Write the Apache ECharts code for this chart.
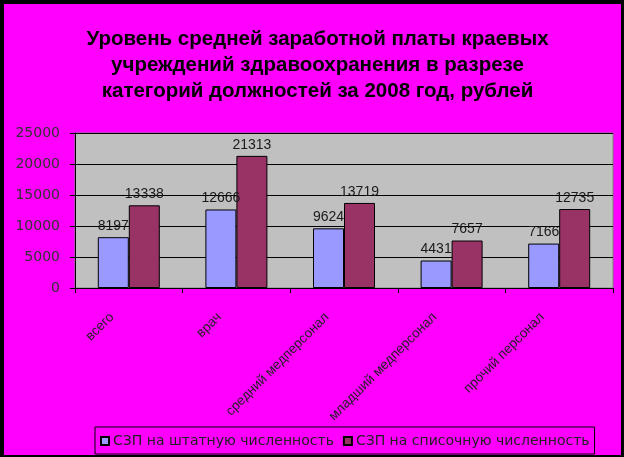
<!DOCTYPE html>
<html><head><meta charset="utf-8">
<script src="https://cdn.jsdelivr.net/npm/echarts@6/dist/echarts.min.js"></script>
<style>html,body{margin:0;padding:0;background:#FF00FF}#c{width:624px;height:457px}</style>
</head><body><div id="c"></div>
<script>
const categories = ['всего', 'врач', 'средний медперсонал', 'младший медперсонал', 'прочий персонал'];
const seriesNames = ['СЗП на штатную численность', 'СЗП на списочную численность'];
const staffValues = [8197, 12666, 9624, 4431, 7166];
const listValues = [13338, 21313, 13719, 7657, 12735];
const yTicks = [0, 5000, 10000, 15000, 20000, 25000];

const chart = echarts.init(document.getElementById('c'), null, {renderer: 'canvas'});
const labelStyle = {show: true, position: 'top', distance: 4, color: '#1a1a1a', fontFamily: 'Liberation Sans', fontSize: 14};
chart.setOption({
  backgroundColor: '#FF00FF',
  animation: false,
  title: {
    text: 'Уровень средней заработной платы краевых\nучреждений здравоохранения в разрезе\nкатегорий должностей за 2008 год, рублей',
    left: 312.5, top: 21, textAlign: 'center',
    textStyle: {fontFamily: 'Liberation Sans', fontWeight: 'bold', fontSize: 20.5, lineHeight: 26, color: '#000'}
  },
  graphic: [
    {type: 'rect', shape: {x: 0, y: 0, width: 4, height: 457}, style: {fill: '#000'}, silent: true},
    {type: 'rect', shape: {x: 0, y: 0, width: 624, height: 4}, style: {fill: '#000'}, silent: true},
    {type: 'rect', shape: {x: 621, y: 0, width: 3, height: 457}, style: {fill: '#000'}, silent: true},
    {type: 'rect', shape: {x: 0, y: 455, width: 624, height: 2}, style: {fill: '#000'}, silent: true}
  ],
  legend: {
    left: 95, top: 427, width: 520,
    padding: [7, 5, 6, 5],
    itemWidth: 8, itemHeight: 8, itemGap: 9,
    borderColor: '#000', borderWidth: 1,
    icon: 'rect',
    textStyle: {fontFamily: 'DejaVu Sans', fontSize: 14, color: '#222', padding: [0, 0, 0, -1]},
    data: seriesNames
  },
  grid: {left: 75, top: 133, right: 11, bottom: 169, show: true, backgroundColor: '#C0C0C0', borderColor: '#808080', borderWidth: 1},
  xAxis: {
    type: 'category', data: categories,
    axisLine: {lineStyle: {color: '#000', width: 1}},
    axisTick: {show: true, length: 5, lineStyle: {color: '#000'}},
    axisLabel: {rotate: 45, margin: 10, interval: 0, fontFamily: 'Liberation Sans', fontSize: 13.5, color: '#222', padding: [0, 24, 0, 0]}
  },
  yAxis: {
    type: 'value', min: yTicks[0], max: yTicks[yTicks.length - 1], interval: yTicks[1] - yTicks[0],
    axisLine: {show: true, lineStyle: {color: '#000'}},
    axisTick: {show: true, length: 5, lineStyle: {color: '#000'}},
    splitLine: {lineStyle: {color: '#000', width: 1}},
    axisLabel: {margin: 15, fontFamily: 'DejaVu Sans', fontSize: 14, color: '#333', formatter: v => String(v)}
  },
  series: [
    {name: seriesNames[0], type: 'bar', data: staffValues, barWidth: 31, barGap: '0%', itemStyle: {color: '#9999FF', borderColor: '#000', borderWidth: 1}, label: labelStyle},
    {name: seriesNames[1], type: 'bar', data: listValues, barWidth: 31, barGap: '0%', itemStyle: {color: '#993366', borderColor: '#000', borderWidth: 1}, label: labelStyle}
  ]
});
</script></body></html>
